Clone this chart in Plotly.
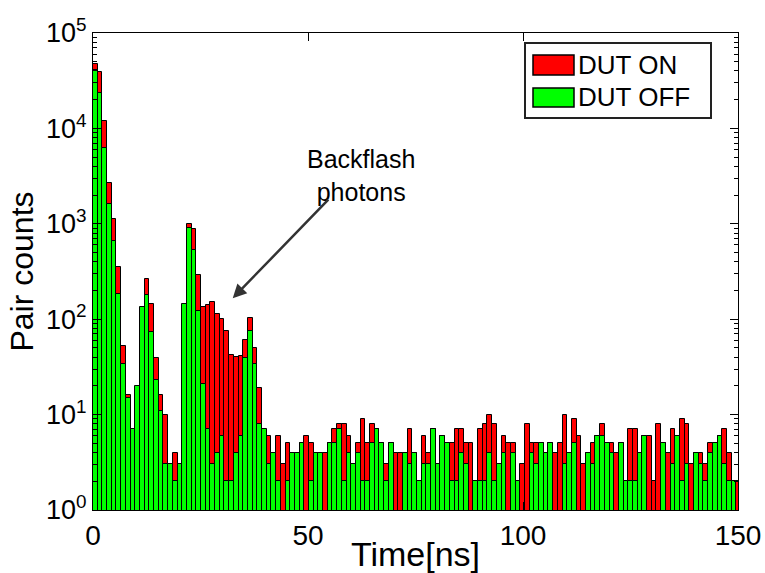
import plotly.graph_objects as go

# Coincidence histogram: pair counts per time bin, with the DUT switched on and off
BIN_WIDTH_NS = 1.092

counts_on = [
    47000, 39000, 12100, 2680, 1120, 355, 52, 16, 6, 18,
    120, 265, 143, 39, 16, 10, 3, 4, 3, 140,
    1000, 874, 288, 134, 140, 152, 114, 100, 76, 42,
    40, 41, 60, 103, 50, 19, 6, 6, 4, 6,
    3, 5, 4, 4, 5, 6, 5, 4, 4, 4,
    5, 7, 8, 8, 6, 3, 5, 9, 5, 8,
    7, 5, 3, 5, 4, 4, 4, 7, 4, 2,
    6, 4, 7, 3, 6, 5, 5, 7, 7, 5,
    5, 2, 7, 8, 10, 8, 3, 6, 5, 5,
    2, 3, 8, 5, 5, 5, 4, 5, 4, 5,
    10, 4, 9, 6, 3, 4, 5, 6, 8, 5,
    5, 4, 5, 2, 7, 7, 4, 6, 6, 2,
    8, 5, 4, 7, 6, 9, 8, 3, 4, 4,
    3, 5, 5, 6, 7, 4, 2, 2,
]

counts_off = [
    40600, 23500, 6280, 1620, 665, 185, 34, 15, 7, 20,
    134, 178, 73, 23, 11, 3, 3, 2, 3, 143,
    910, 528, 121, 21, 7, 3, 4, 6, 2, 2,
    4, 6, 39, 76, 34, 8, 7, 3, 4, 2,
    0, 2, 4, 4, 5, 0, 2, 4, 4, 0,
    5, 5, 7, 2, 4, 3, 4, 2, 2, 5,
    7, 5, 2, 5, 0, 0, 4, 3, 4, 2,
    3, 3, 7, 3, 6, 5, 2, 2, 4, 3,
    0, 2, 2, 2, 4, 2, 3, 4, 0, 4,
    2, 0, 0, 4, 3, 5, 4, 5, 0, 0,
    3, 4, 5, 0, 0, 4, 3, 6, 6, 5,
    4, 0, 5, 2, 2, 2, 4, 6, 0, 0,
    0, 5, 0, 3, 6, 2, 3, 0, 4, 3,
    2, 4, 5, 6, 3, 2, 2, 0,
]

x_ticks = [0, 50, 100, 150]
y_tick_exponents = [0, 1, 2, 3, 4, 5]
legend_labels = ["DUT ON", "DUT OFF"]
series_colors = ["#ff0000", "#00ff00"]

bin_centers = [(i + 0.5) * BIN_WIDTH_NS for i in range(len(counts_on))]

FONT = "Liberation Sans, Arial, Helvetica, sans-serif"

fig = go.Figure()
for counts, color, name in zip([counts_on, counts_off], series_colors, legend_labels):
    fig.add_trace(go.Bar(
        x=bin_centers,
        y=counts,
        width=BIN_WIDTH_NS,
        name=name,
        marker=dict(color=color, line=dict(color="black", width=1)),
        showlegend=False,
    ))

W, H = 765, 573
L, R, T, B = 93, 27, 33, 63
PW, PH = W - L - R, H - T - B


def px(xp):
    return (xp - L) / PW


def py(yp):
    return (H - B - yp) / PH


minor_vals = [m * 10 ** e for e in range(0, 5) for m in range(2, 10)]

fig.update_layout(
    width=W, height=H,
    margin=dict(l=L, r=R, t=T, b=B, pad=0, autoexpand=False),
    paper_bgcolor="white", plot_bgcolor="white",
    barmode="overlay", bargap=0,
    font=dict(family=FONT, size=27, color="black"),
    xaxis=dict(
        range=[0, 150], automargin=False,
        tickmode="array", tickvals=x_ticks, ticktext=[str(v) for v in x_ticks],
        ticks="inside", ticklen=8, tickwidth=1, tickcolor="black",
        showline=True, linecolor="black", linewidth=1, mirror="ticks",
        showgrid=False, zeroline=False,
        tickfont=dict(size=28),
        title=dict(text="Time[ns]", font=dict(size=34), standoff=0),
    ),
    yaxis=dict(
        type="log", range=[0, 5], automargin=False,
        tickmode="array",
        tickvals=[10 ** e for e in y_tick_exponents],
        ticktext=[f"10<sup>{e}</sup>" for e in y_tick_exponents],
        ticks="inside", ticklen=8, tickwidth=1, tickcolor="black",
        minor=dict(tickmode="array", tickvals=minor_vals, ticks="inside",
                   ticklen=4, tickwidth=1, tickcolor="black", showgrid=False),
        showline=True, linecolor="black", linewidth=1, mirror="ticks",
        showgrid=False, zeroline=False,
        tickfont=dict(size=27),
        title=dict(text="Pair counts", font=dict(size=32), standoff=2),
    ),
)

# Legend drawn as a framed box with colour patches
shapes = [
    dict(type="rect", xref="paper", yref="paper",
         x0=px(525), x1=px(711), y0=py(118), y1=py(43),
         line=dict(color="#222222", width=2), fillcolor="white"),
]
patch_rows = [(55, 75), (88, 107)]
for (top, bottom), color in zip(patch_rows, series_colors):
    shapes.append(dict(type="rect", xref="paper", yref="paper",
                       x0=px(533), x1=px(574), y0=py(bottom), y1=py(top),
                       line=dict(color="black", width=1.5), fillcolor=color))

annotations = []
for (top, bottom), label in zip(patch_rows, legend_labels):
    annotations.append(dict(xref="paper", yref="paper",
                            x=px(576), y=py((top + bottom) / 2),
                            text=label, showarrow=False,
                            xanchor="left", yanchor="middle",
                            font=dict(size=26, color="black")))

# Callout pointing at the backflash excess
annotations.append(dict(x=62.3, y=3.51, xref="x", yref="y",
                        text="Backflash<br>photons", showarrow=False,
                        xanchor="center", yanchor="middle",
                        font=dict(size=25, color="black")))
annotations.append(dict(x=32.5, y=2.22, xref="x", yref="y",
                        text="", showarrow=True,
                        ax=97, ay=-100, axref="pixel", ayref="pixel",
                        arrowhead=2, arrowsize=1.1, arrowwidth=2.5,
                        arrowcolor="#333333"))

fig.update_layout(shapes=shapes, annotations=annotations)

fig.write_html("out.html")
